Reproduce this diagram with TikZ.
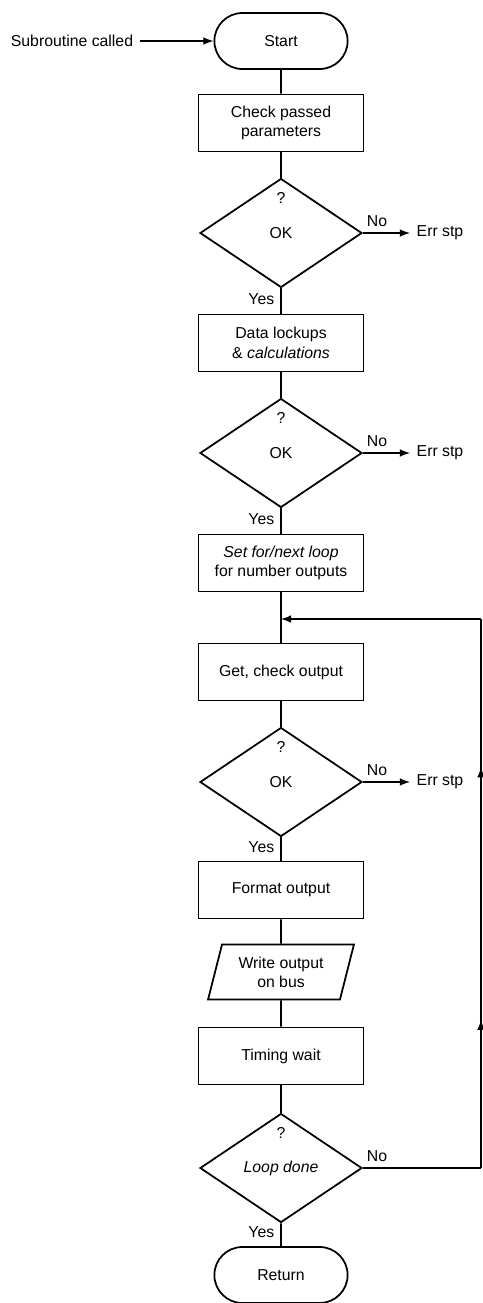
\documentclass[tikz,border=0pt]{standalone}
\usepackage{fontspec}
\setmainfont{Liberation Sans}
\usetikzlibrary{shapes, arrows, positioning, decorations.markings}

\begin{document}
\begin{tikzpicture}[x=0.02cm, y=-0.02cm, line width=1pt, every node/.style={font=\fontsize{9}{11}\selectfont, align=center}]
	\tikzstyle{termc}=[rounded rectangle, draw=black, minimum width=2.9cm, minimum height=1.12cm]
	\tikzstyle{boxc}=[rectangle, draw=black, minimum width=3.3cm, minimum height=1.14cm]
	\tikzstyle{testc}=[diamond, draw=black, minimum width=3.24cm, minimum height=2.18cm, inner sep=0pt]
	\tikzstyle{iobox}=[trapezium, trapezium left angle=75, trapezium right angle=105, trapezium stretches=true, draw=black, minimum width=2.94cm, minimum height=1.1cm]
	\tikzstyle{looparrows}=[postaction={decorate}, decoration={markings, mark=at position 0.27 with {\arrow{latex}}, mark=at position 0.73 with {\arrow{latex}}}]
	\useasboundingbox (0,0) rectangle (483,1303);
	
	\node (start) at (281,41) [termc]{Start};
	\node (called) at (72,41) {Subroutine called};
	\node (check) at (281,123) [boxc]{Check passed\\parameters};
	\node (ok1) at (281,233) [testc]{OK};
	\node (q1) at (281,198) {?};
	\node (err1) at (410,233) [anchor=west]{Err stp};
	\node (data) at (281,343) [boxc]{Data lockups\\\& \textit{calculations}};
	\node (ok2) at (281,453) [testc]{OK};
	\node (q2) at (281,418) {?};
	\node (err2) at (410,453) [anchor=west]{Err stp};
	\node (setloop) at (281,563) [boxc]{\textit{Set for/next loop}\\for number outputs};
	\coordinate (loopin) at (281,619);
	\node (getout) at (281,672) [boxc]{Get, check output};
	\node (ok3) at (281,782) [testc]{OK};
	\node (q3) at (281,747) {?};
	\node (err3) at (410,782) [anchor=west]{Err stp};
	\node (fmt) at (281,890) [boxc]{Format output};
	\node (write) at (281,972) [iobox]{Write output\\on bus};
	\node (wait) at (281,1056) [boxc]{Timing wait};
	\node (done) at (281,1168) [testc]{\textit{Loop done}};
	\node (q4) at (281,1133) {?};
	\node (ret) at (281,1275) [termc]{Return};
	\coordinate (rb) at (481,1168);
	\coordinate (rt) at (481,619);
	
	\draw[-latex] (called) -- (start);
	\draw (start) -- (check);
	\draw (check) -- (ok1);
	\draw[-latex] (ok1.east) --node[above, pos=0.3] {No} (err1);
	\draw (ok1.south) --node[left, pos=0.43] {Yes} (data);
	\draw (data) -- (ok2);
	\draw[-latex] (ok2.east) --node[above, pos=0.3] {No} (err2);
	\draw (ok2.south) --node[left, pos=0.43] {Yes} (setloop);
	\draw (setloop) -- (getout);
	\draw (getout) -- (ok3);
	\draw[-latex] (ok3.east) --node[above, pos=0.3] {No} (err3);
	\draw (ok3.south) --node[left, pos=0.43] {Yes} (fmt);
	\draw (fmt) -- (write);
	\draw (write) -- (wait);
	\draw (wait) -- (done);
	\draw (done.south) --node[left, pos=0.4] {Yes} (ret);
	
	\draw (done.east) --node[above, pos=0.12] {No} (rb);
	\draw[looparrows] (rb) -- (rt);
	\draw[-latex] (rt) -- (loopin);
\end{tikzpicture}
\end{document}
